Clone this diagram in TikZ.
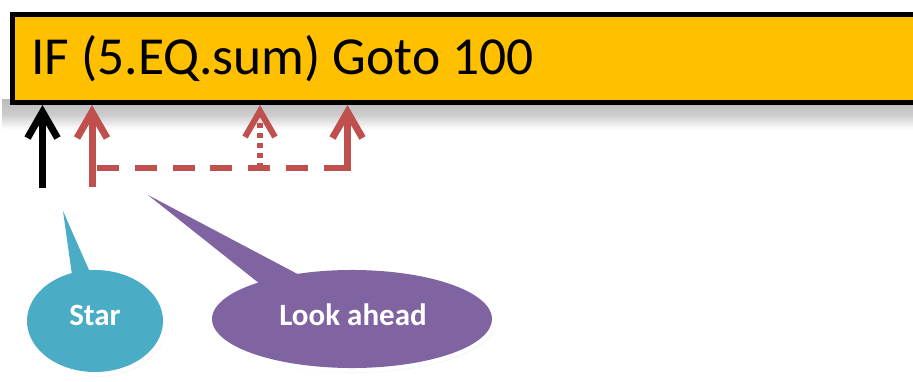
\documentclass[tikz,border=0pt]{standalone}
\usepackage{fontspec}
\setmainfont{Carlito}
\usetikzlibrary{arrows.meta,shadows.blur,calc}
\definecolor{gold}{HTML}{FFC000}
\definecolor{redc}{HTML}{C0504D}
\definecolor{aqua}{HTML}{4BACC6}
\definecolor{purp}{HTML}{8064A2}
\begin{document}
\begin{tikzpicture}[x=1pt,y=1pt,
  boxstyle/.style={draw=black, line width=5pt, fill=gold},
  arr/.style={line width=7pt, -{Straight Barb[length=26pt,width=30pt]}},
  callout/.style={preaction={draw=white, line width=9pt, line join=miter,
    blur shadow={shadow xshift=1.5pt, shadow yshift=-2pt, shadow blur radius=3pt, shadow opacity=55}}},
  calltext/.style={text=white, font=\bfseries\fontsize{31}{36}\selectfont, anchor=base, inner sep=0}]
\useasboundingbox (0,0) rectangle (913,381);
\begin{scope}
\clip (0,0) rectangle (913,381);
\shade[top color=black!26, bottom color=white, middle color=black!20] (2,252) rectangle (913,281);
\node[boxstyle, anchor=north west, minimum width=925pt, minimum height=88pt, inner sep=0] (box) at (10,369) {};
\node[anchor=base west, inner sep=0, font=\fontsize{53.5}{60}\selectfont] (code) at (31,306) {IF (5.EQ.sum) Goto 100};

\coordinate (s0) at (42.5,193);
\coordinate (r1) at (92,194);
\coordinate (m0) at (260,213);
\coordinate (k0) at (347.5,210);
\coordinate (d0) at (97,213);
\coordinate (d1) at (351,213);

\draw[arr, black] (s0) -- (s0 |- box.south);
\draw[arr, redc] (r1) -- (r1 |- box.south);
\draw[redc, line width=6pt, dash pattern=on 22pt off 15.8pt] (d0) -- (d1);
\draw[arr, redc, line width=6pt, dash pattern=on 5pt off 5pt] (m0) -- (m0 |- box.south);
\draw[arr, redc] (k0) -- (k0 |- box.south);

\path[callout, fill=aqua] (63,170) -- ($(95,60)+(95:68 and 51)$)
  arc[start angle=95, end angle=-250, x radius=68, y radius=51] -- cycle;
\path[callout, fill=purp] (148,186) -- ($(352,62)+(113:140 and 49)$)
  arc[start angle=113, end angle=-228, x radius=140, y radius=49] -- cycle;

\node[calltext] (star) at (95,56) {Star};
\node[calltext] (look) at (353,56) {Look ahead};
\end{scope}
\end{tikzpicture}
\end{document}
